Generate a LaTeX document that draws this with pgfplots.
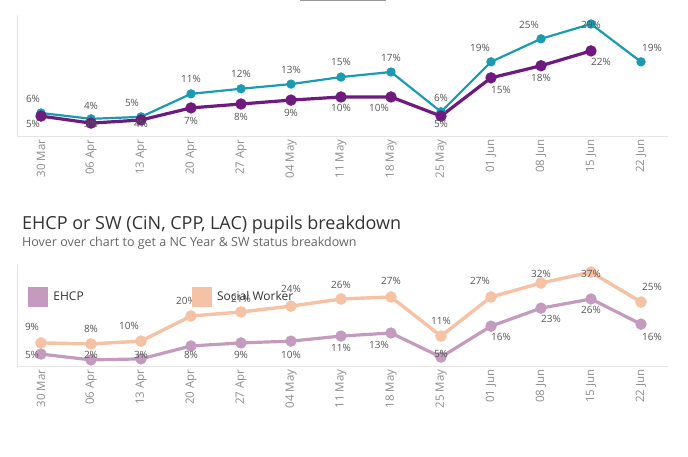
\documentclass[border=0pt]{standalone}
\usepackage{pgfplots}
\pgfplotsset{compat=1.18}
\usepackage{pgfplotstable}
\usepackage{fontspec}
\setmainfont{Open Sans}
\definecolor{teal1}{HTML}{1A9BB2}
\definecolor{purp}{HTML}{6E1A7E}
\definecolor{peach}{HTML}{F5C2A5}
\definecolor{mauve}{HTML}{C49BBE}
\definecolor{lbl}{HTML}{555555}
\definecolor{tickc}{HTML}{8C8C8C}
\definecolor{titlec}{HTML}{333333}
\definecolor{subc}{HTML}{666666}

\pgfplotstableread{
x y lab dx dy
0 5.9 6 -8 14
1 4.4 4 0 13
2 4.9 5 -9 14
3 10.8 11 0 15
4 12.1 12 0 15
5 13.3 13 0 14
6 15.1 15 0 15
7 16.4 17 0 14
8 6.2 6 0 14
9 19.0 19 -11 14
10 24.9 25 -12 14
11 28.7 29 0 -1
12 19.0 19 11 14
}\tealtab

\pgfplotstableread{
x y lab dx dy
0 5.1 5 -8 -8
1 3.3 3 0 -1
2 4.1 4 0 -4
3 7.2 7 0 -13
4 8.2 8 0 -13
5 9.2 9 0 -13
6 10.0 10 0 -11
7 10.0 10 -12 -11
8 5.1 5 0 -8
9 14.9 15 10 -12
10 18.0 18 0 -12
11 21.8 22 10 -11
}\purptab

\pgfplotstableread{
x y lab dx dy
0 9.1 9 -9 16
1 8.7 8 0 15
2 9.8 10 -12 15
3 19.7 20 -5 15
4 21.3 21 0 13
5 23.6 24 0 17
6 26.4 26 0 14
7 27.2 27 0 16
8 11.8 11 0 15
9 27.2 27 -11 16
10 32.7 32 0 9
11 37.0 37 0 -2
12 25.2 25 11 15
}\swtab

\pgfplotstableread{
x y lab dx dy
0 4.7 5 -9 -1
1 2.4 2 0 5
2 2.8 3 0 4
3 7.9 8 0 -9
4 9.1 9 0 -12
5 9.8 10 0 -14
6 11.8 11 0 -12
7 13.0 13 -12 -12
8 3.5 5 0 3
9 15.7 16 10 -11
10 22.8 23 10 -11
11 26.4 26 0 -11
12 16.5 16 11 -13
}\ehcptab

\pgfplotsset{
  mybase/.style={
    scale only axis, width=651pt, xmin=-0.48, xmax=12.54, ymin=0,
    axis x line*=bottom, axis y line*=left,
    axis line style={draw=black!10, line width=0.8pt},
    ytick=\empty, xtick={0,...,12},
    xticklabels={30 Mar,06 Apr,13 Apr,20 Apr,27 Apr,04 May,11 May,18 May,25 May,01 Jun,08 Jun,15 Jun,22 Jun},
    x tick label style={rotate=90, anchor=east, font=\fontsize{11.5}{12}\selectfont, text=tickc},
    major tick length=0pt, clip=false,
  },
  lab/.style={
    only marks, mark=none, forget plot,
    point meta=explicit symbolic,
    visualization depends on={\thisrow{dx}\as\mydx},
    visualization depends on={\thisrow{dy}\as\mydy},
    nodes near coords={\pgfplotspointmeta\%},
    every node near coord/.append style={anchor=center, xshift=\mydx pt, yshift=\mydy pt,
      font=\fontsize{10}{10}\selectfont, text=lbl, inner sep=0pt},
  },
}

\begin{document}
\begin{tikzpicture}
\path[use as bounding box] (0,0) rectangle (688pt,456pt);
\fill[black!40] (300pt,454.5pt) rectangle (386pt,456pt);

\begin{axis}[mybase, at={(17pt,320pt)}, anchor=south west, height=121pt, ymax=31]
\addplot[teal1, line width=2.2pt, mark=*, mark size=3.5pt] table[x=x,y=y]{\tealtab};
\addplot[purp, line width=3.2pt, mark=*, mark size=4pt] table[x=x,y=y]{\purptab};
\addplot[lab] table[x=x,y=y,meta=lab]{\tealtab};
\addplot[lab] table[x=x,y=y,meta=lab]{\purptab};
\end{axis}

\node[anchor=base west, text=titlec, font=\fontsize{18}{18}\selectfont, inner sep=0pt] at (22pt,227pt) {EHCP or SW (CiN, CPP, LAC) pupils breakdown};
\node[anchor=base west, text=subc, font=\fontsize{12.5}{13}\selectfont, inner sep=0pt] at (22pt,210pt) {Hover over chart to get a NC Year \& SW status breakdown};

\begin{axis}[mybase, at={(17pt,90pt)}, anchor=south west, height=101pt, ymax=39.8,
  legend style={at={(rel axis cs:0.012,0.80)}, anchor=north west, draw=none, fill=none,
    font=\fontsize{12}{12}\selectfont, text=titlec,
    /tikz/every odd column/.append style={column sep=4pt},
    /tikz/every even column/.append style={column sep=106pt}},
  legend columns=2,
  legend image code/.code={\fill[#1] (0pt,-9.5pt) rectangle (19pt,9.5pt);}]
\addplot[peach, line width=3.4pt, mark=*, mark size=4pt, forget plot] table[x=x,y=y]{\swtab};
\addplot[mauve, line width=3.2pt, mark=*, mark size=4pt, forget plot] table[x=x,y=y]{\ehcptab};
\addplot[lab] table[x=x,y=y,meta=lab]{\swtab};
\addplot[lab] table[x=x,y=y,meta=lab]{\ehcptab};
\addlegendimage{mauve}\addlegendentry{EHCP}
\addlegendimage{peach}\addlegendentry{Social Worker}
\end{axis}
\end{tikzpicture}
\end{document}
